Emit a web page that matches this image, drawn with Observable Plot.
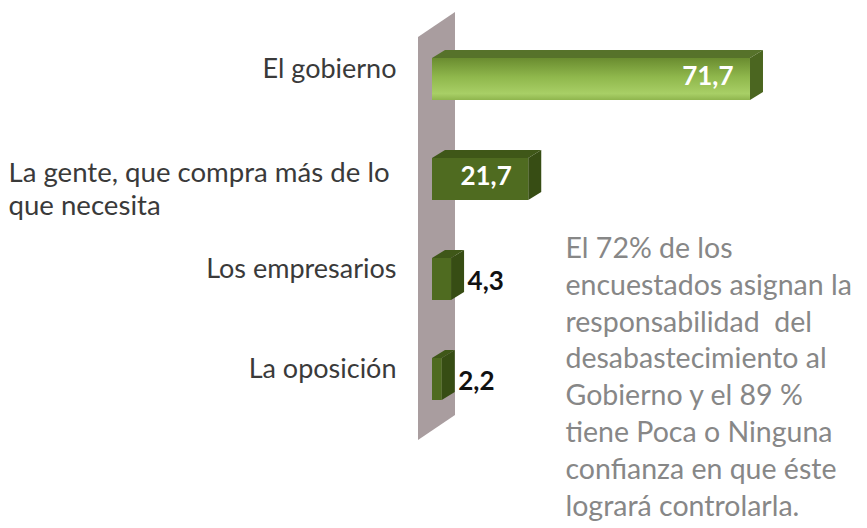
<!DOCTYPE html>
<html>
<head>
<meta charset="utf-8">
<script src="https://cdn.jsdelivr.net/npm/d3@7"></script>
<script src="https://cdn.jsdelivr.net/npm/@observablehq/plot@0.6"></script>
<style>
  html, body { margin: 0; padding: 0; background: #ffffff; }
  #chart text { white-space: pre; }
</style>
</head>
<body>
<div id="chart"></div>
<script>
// ---- data ----
const categories = ["El gobierno", "La gente", "Los empresarios", "La oposición"];
const tickLabels = ["El gobierno", "La gente, que compra más de lo\nque necesita", "Los empresarios", "La oposición"];
const values = [71.7, 21.7, 4.3, 2.2];
const valueLabels = ["71,7", "21,7", "4,3", "2,2"];
const annotationLines = [
  "El 72% de los",
  "encuestados asignan la",
  "responsabilidad  del",
  "desabastecimiento al",
  "Gobierno y el 89 %",
  "tiene Poca o Ninguna",
  "confianza en que éste",
  "logrará controlarla."
];

const data = categories.map((c, i) => ({
  cat: c, value: values[i], label: tickLabels[i], vlabel: valueLabels[i], highlight: i === 0
}));

const DX = 13, DY = 8; // 3D depth offset
const font = "Lato, 'Open Sans', sans-serif";

function bar3d(index, scales, values, dimensions, context, next) {
  const front = next(index, scales, values, dimensions, context);
  const g = d3.create("svg:g");
  const rects = Array.from(front.querySelectorAll("rect"));
  rects.forEach((r, k) => {
    const i = index[k];
    const x1 = +r.getAttribute("x"), y1 = +r.getAttribute("y");
    const x2 = x1 + +r.getAttribute("width"), y2 = y1 + +r.getAttribute("height");
    const hi = data[i].highlight;
    g.append("path")
      .attr("d", `M${x1},${y1}L${x1 + DX},${y1 - DY}L${x2 + DX},${y1 - DY}L${x2},${y1}Z`)
      .attr("fill", hi ? "#56722a" : "#3f5718");
    g.append("path")
      .attr("d", `M${x2},${y1}L${x2 + DX},${y1 - DY}L${x2 + DX},${y2 - DY}L${x2},${y2}Z`)
      .attr("fill", hi ? "#4b6620" : "#374d14");
  });
  g.node().appendChild(front);
  return g.node();
}

function wall(index, scales, values, dimensions) {
  const x0 = scales.x(0);
  const yt = scales.y(categories[0]);
  const bw = 42;
  const yb = scales.y(categories[categories.length - 1]) + bw;
  const xl = x0 - 14, xr = x0 + 23;
  const g = d3.create("svg:g");
  g.append("path")
    .attr("d", `M${xl},${yt - 21}L${xr},${yt - 46}L${xr},${yb + 15}L${xl},${yb + 40}Z`)
    .attr("fill", "#a99d9f");
  return g.node();
}

const chart = Plot.plot({
  width: 867,
  height: 528,
  marginLeft: 0,
  marginRight: 0,
  marginTop: 0,
  marginBottom: 0,
  style: { fontFamily: font, background: "#ffffff", overflow: "visible" },
  x: { domain: [0, 100], range: [432, 875.5], axis: null },
  y: { domain: categories, range: [29, 429], paddingInner: 0.58, paddingOuter: 0.29, axis: null },
  marks: [
    Plot.ruleX([0], { render: wall }),
    Plot.barX(data, {
      x: "value", y: "cat",
      fill: d => d.highlight ? "url(#gradHi)" : "#4f6b20",
      render: bar3d
    }),
    // category labels (single line)
    Plot.text(data.filter(d => !d.label.includes("\n")), {
      y: "cat", text: "label", frameAnchor: "left", dx: 396, dy: -10,
      textAnchor: "end", fontSize: 27, fill: "#3a3a3a"
    }),
    // category labels (wrapped)
    Plot.text(data.filter(d => d.label.includes("\n")), {
      y: "cat", text: "label", frameAnchor: "left", dx: 8, dy: 8,
      textAnchor: "start", lineAnchor: "middle", lineHeight: 1.2, fontSize: 27.6, fill: "#3a3a3a"
    }),
    // value labels inside
    Plot.text(data.filter(d => d.value > 10), {
      x: "value", y: "cat", text: "vlabel", dx: -17, dy: -3,
      textAnchor: "end", fontSize: 26, fontWeight: "bold", fill: "#ffffff"
    }),
    // value labels outside
    Plot.text(data.filter(d => d.value <= 10), {
      x: "value", y: "cat", text: "vlabel", dx: 16, dy: 2,
      textAnchor: "start", fontSize: 26, fontWeight: "bold", fill: "#111111"
    }),
    // annotation
    Plot.text([annotationLines.join("\n")], {
      text: d => d, frameAnchor: "top-left", dx: 565, dy: 231,
      textAnchor: "start", lineAnchor: "top", lineHeight: 1.295, fontSize: 28.5, fill: "#878787"
    })
  ]
});

// gradient for the highlighted bar
const defs = d3.select(chart).insert("defs", ":first-child");
const grad = defs.append("linearGradient").attr("id", "gradHi")
  .attr("x1", 0).attr("y1", 0).attr("x2", 0).attr("y2", 1);
grad.append("stop").attr("offset", "0%").attr("stop-color", "#6a8c30");
grad.append("stop").attr("offset", "45%").attr("stop-color", "#8fb74c");
grad.append("stop").attr("offset", "85%").attr("stop-color", "#a8cf66");
grad.append("stop").attr("offset", "100%").attr("stop-color", "#8fb54e");

document.getElementById("chart").appendChild(chart);
</script>
</body>
</html>
